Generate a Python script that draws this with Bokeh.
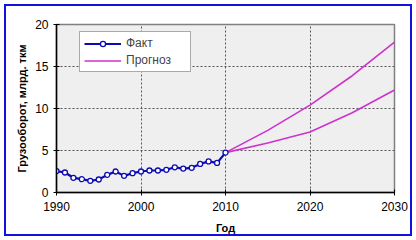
from bokeh.plotting import figure
from bokeh.embed import file_html
from bokeh.resources import INLINE
from bokeh.models import (SingleIntervalTicker, Range1d, Legend, LegendItem,
                          ColumnDataSource)

# ---- data ----
fact_years = [1990, 1991, 1992, 1993, 1994, 1995, 1996, 1997, 1998, 1999,
              2000, 2001, 2002, 2003, 2004, 2005, 2006, 2007, 2008, 2009, 2010]
fact_values = [2.55, 2.38, 1.75, 1.59, 1.39, 1.55, 2.1, 2.5, 1.98, 2.3,
               2.5, 2.62, 2.62, 2.7, 3.0, 2.85, 2.94, 3.4, 3.7, 3.52, 4.75]
fc_years = [2010, 2015, 2020, 2025, 2030]
fc_high = [4.75, 7.4, 10.4, 13.9, 17.9]
fc_low = [4.75, 5.9, 7.2, 9.5, 12.2]

FONT = "Liberation Sans"
BLUE = "#0b0bb4"
MAGENTA = "#cc33cc"

p = figure(width=416, height=240, output_backend="svg", toolbar_location=None,
           x_range=Range1d(1990, 2030), y_range=Range1d(0, 20),
           min_border_left=56, min_border_right=22, min_border_top=24,
           min_border_bottom=48,
           styles={"background-color": "white",
                   "outline": "2px solid #1010e0", "outline-offset": "-6px"})

p.background_fill_color = "#efefef"
p.border_fill_color = "white"
p.border_fill_alpha = 0
p.outline_line_color = "#808080"
p.outline_line_width = 1.5

for ax in (p.xaxis[0], p.yaxis[0]):
    ax.axis_line_color = "black"
    ax.axis_line_width = 1.5
    ax.major_tick_line_color = "black"
    ax.major_tick_in = 3
    ax.major_tick_out = 3
    ax.minor_tick_line_color = None
    ax.major_label_text_font = FONT
    ax.major_label_text_font_size = "12px"
    ax.major_label_text_color = "black"
    ax.axis_label_text_font = FONT
    ax.axis_label_text_font_size = "11px"
    ax.axis_label_text_font_style = "bold"
    ax.axis_label_text_color = "black"

p.xaxis.ticker = SingleIntervalTicker(interval=10)
p.yaxis.ticker = SingleIntervalTicker(interval=5)
p.xaxis.axis_label = "Год"
p.yaxis.axis_label = "Грузооборот, млрд. ткм"
p.xaxis.major_label_standoff = 5
p.yaxis.major_label_standoff = 4
p.xaxis.axis_label_standoff = 8
p.yaxis.axis_label_standoff = 4

p.xgrid.grid_line_color = "#555555"
p.ygrid.grid_line_color = "#555555"
p.xgrid.grid_line_dash = "2 2"
p.ygrid.grid_line_dash = "2 2"
p.xgrid.grid_line_width = 1
p.ygrid.grid_line_width = 1

src_f = ColumnDataSource(dict(x=fact_years, y=fact_values))
src_fc = ColumnDataSource(dict(x=fc_years, hi=fc_high, lo=fc_low))

r_hi = p.line("x", "hi", source=src_fc, line_color=MAGENTA, line_width=1.6)
r_lo = p.line("x", "lo", source=src_fc, line_color=MAGENTA, line_width=1.6)
r_fl = p.line("x", "y", source=src_f, line_color=BLUE, line_width=2.2)
r_fm = p.scatter("x", "y", source=src_f, marker="circle", size=5,
                 fill_color="white", line_color=BLUE, line_width=1.3)

legend = Legend(items=[LegendItem(label="Факт", renderers=[r_fl, r_fm]),
                       LegendItem(label="Прогноз", renderers=[r_hi])],
                location=(23, 120), orientation="vertical")
legend.label_text_font = FONT
legend.label_text_font_size = "12px"
legend.label_height = 13
legend.glyph_height = 13
legend.glyph_width = 37
legend.label_width = 60
legend.spacing = 3
legend.padding = 4
legend.margin = 0
legend.label_standoff = 5
legend.border_line_color = "#555555"
legend.border_line_width = 1
legend.background_fill_color = "white"
legend.background_fill_alpha = 1
p.add_layout(legend)

open("out.html", "w").write(file_html(p, INLINE))
